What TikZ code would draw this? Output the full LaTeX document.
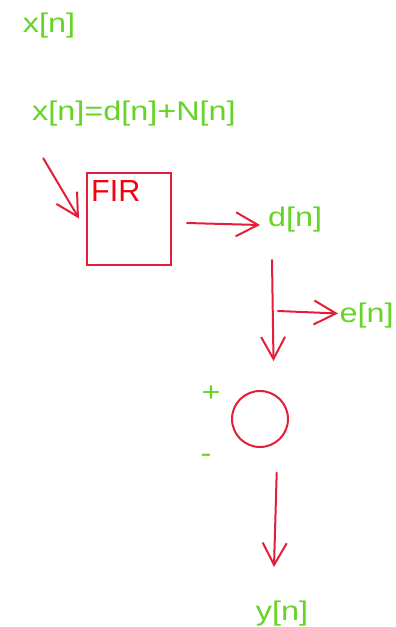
\documentclass[tikz,border=0pt]{standalone}
\usepackage{fontspec}
\usetikzlibrary{arrows.meta}
\newfontfamily\lblfont{Liberation Sans}[FakeStretch=1.2]
\newfontfamily\firfont{Liberation Sans}
\definecolor{lblgreen}{RGB}{102,212,38}
\definecolor{wire}{RGB}{226,30,56}
\definecolor{firred}{RGB}{245,0,15}
\tikzstyle{lbl}=[anchor=base west,inner sep=0pt,text=lblgreen,font=\lblfont\fontsize{27}{27}\selectfont]
\tikzstyle{to}=[-{Straight Barb[length=22pt,width=24pt]},draw=wire,line width=2pt,line cap=round]
\tikzstyle{blk}=[draw=wire,line width=2pt,inner sep=0pt]

\begin{document}
\begin{tikzpicture}[x=1pt,y=-1pt]
            \useasboundingbox (0,0) rectangle (396,627);
            % labels
            \node[lbl] (xn) at (22.8,32) {x[n]};
            \node[lbl] (xsum) at (32,120) {x[n]=d[n]+N[n]};
            \node[lbl] (dn) at (268,226.3) {d[n]};
            \node[lbl] (en) at (339.4,322.7) {e[n]};
            \node[lbl] (yn) at (255.6,620) {y[n]};
            \node[lbl] (plus) at (201.5,401.5) {+};
            \node[lbl] (minus) at (200.3,462.4) {-};
            % blocks
            \node[blk,minimum width=84pt,minimum height=92pt] (fir) at (129,219) {};
            \node[anchor=base west,inner sep=0pt,text=firred,font=\firfont\fontsize{30.5}{30.5}\selectfont] (firlbl) at (91,201.7) {FIR};
            \node[blk,circle,minimum size=56pt] (sum) at (260,419) {};
            % arrows
            \coordinate (a1s) at (43.3,158.3);
            \coordinate (a1e) at (79,218.5);
            \coordinate (a2s) at (187,223);
            \coordinate (a2e) at (260,225);
            \coordinate (a3s) at (272,260);
            \coordinate (a3e) at (273.5,361);
            \coordinate (a4s) at (278,311);
            \coordinate (a4e) at (338,313.5);
            \coordinate (a5s) at (276.7,472.7);
            \coordinate (a5e) at (274,567);
            \draw[to] (a1s) -- (a1e);
            \draw[to] (a2s) -- (a2e);
            \draw[to] (a3s) -- (a3e);
            \draw[to] (a4s) -- (a4e);
            \draw[to] (a5s) -- (a5e);
        \end{tikzpicture}
\end{document}
